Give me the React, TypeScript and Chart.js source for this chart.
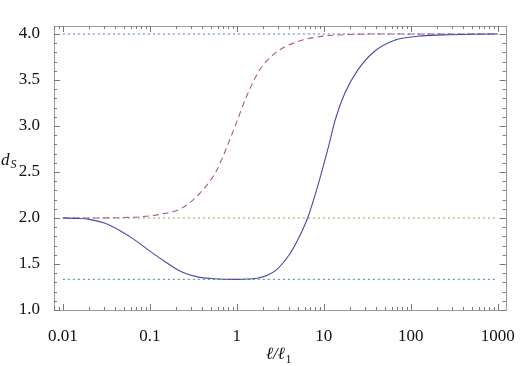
import React, { useEffect, useRef } from "react";
import { Chart, registerables } from "chart.js";

Chart.register(...registerables);

// ---- data ----
const blueX = [0.01, 0.015, 0.02, 0.03, 0.045, 0.065, 0.1, 0.15, 0.23, 0.35, 0.55, 1, 1.7, 2.2, 2.8, 4, 5, 6.5, 8.7, 11.3, 13.5, 17.4, 24.6, 38, 64, 120, 235, 500, 1000];
const blueY = [2.0, 1.995, 1.985, 1.945, 1.865, 1.77, 1.64, 1.525, 1.416, 1.36, 1.34, 1.333, 1.345, 1.375, 1.43, 1.6, 1.76, 2.0, 2.38, 2.775, 3.065, 3.355, 3.61, 3.81, 3.93, 3.975, 3.99, 3.998, 4.0];

const redX = [0.01, 0.03, 0.05, 0.081, 0.15, 0.21, 0.3, 0.385, 0.49, 0.594, 0.77, 1.0, 1.29, 1.83, 2.82, 4.75, 8.7, 20, 50, 1000];
const redY = [2.0, 2.001, 2.005, 2.014, 2.05, 2.087, 2.18, 2.28, 2.4, 2.53, 2.775, 3.05, 3.32, 3.61, 3.8, 3.91, 3.97, 3.995, 4.0, 4.0];

const refX = [0.01, 1000];
const refTop = 4.0;
const refMid = 2.0;
const refLow = 4 / 3;

const xTicks = [0.01, 0.1, 1, 10, 100, 1000];
const yTicks = [1.0, 1.5, 2.0, 2.5, 3.0, 3.5, 4.0];

const xMin = 0.0079;
const xMax = 1230;
const yMin = 1.0;
const yMax = 4.087;

const FONT = '"Liberation Serif", "DejaVu Serif", serif';

const framePlugin = {
  id: "frameTicks",
  afterDraw(chart: any) {
    const { ctx, chartArea: a, scales } = chart;
    const xs = scales.x;
    const ys = scales.y;
    ctx.save();
    ctx.strokeStyle = "#9a9a9a";
    ctx.lineWidth = 1;
    ctx.strokeRect(Math.round(a.left) + 0.5, Math.round(a.top) + 0.5, Math.round(a.right - a.left), Math.round(a.bottom - a.top));
    ctx.strokeStyle = "#777";
    ctx.beginPath();
    for (let e = -3; e <= 4; e++) {
      for (let m = 1; m <= 9; m++) {
        const v = m * Math.pow(10, e);
        if (v < xMin || v > xMax) continue;
        const px = Math.round(xs.getPixelForValue(v)) + 0.5;
        const len = m === 1 ? 6 : 3;
        ctx.moveTo(px, a.bottom);
        ctx.lineTo(px, a.bottom - len);
        ctx.moveTo(px, a.top);
        ctx.lineTo(px, a.top + len);
      }
    }
    for (let i = 10; i <= 40; i++) {
      const v = i / 10;
      if (v < yMin || v > yMax) continue;
      const py = Math.round(ys.getPixelForValue(v)) + 0.5;
      const len = i % 5 === 0 ? 6 : 3;
      ctx.moveTo(a.left, py);
      ctx.lineTo(a.left + len, py);
      ctx.moveTo(a.right, py);
      ctx.lineTo(a.right - len, py);
    }
    ctx.stroke();

    ctx.fillStyle = "#111";
    ctx.textBaseline = "alphabetic";
    ctx.textAlign = "left";
    ctx.font = `italic 17px ${FONT}`;
    ctx.fillText("d", 1, 165);
    ctx.font = `italic 12px ${FONT}`;
    ctx.fillText("S", 10.5, 168);

    ctx.font = `italic 17px ${FONT}`;
    const main = "ℓ/ℓ";
    const w = ctx.measureText(main).width;
    ctx.fillText(main, 266, 359);
    ctx.font = `12px ${FONT}`;
    ctx.fillText("1", 266 + w + 0.5, 363);
    ctx.restore();
  },
};

export default function App() {
  const ref = useRef<HTMLCanvasElement | null>(null);
  useEffect(() => {
    if (!ref.current) return;
    Chart.defaults.font.family = FONT;
    const pts = (xs: number[], ys: number[]) => xs.map((x, i) => ({ x, y: ys[i] }));
    const flat = (v: number) => refX.map((x) => ({ x, y: v }));
    const chart = new Chart(ref.current, {
      type: "line",
      data: {
        datasets: [
          {
            data: pts(blueX, blueY),
            borderColor: "#4848aa",
            borderWidth: 1.1,
            pointRadius: 0,
            cubicInterpolationMode: "monotone",
          },
          {
            data: pts(redX, redY),
            borderColor: "#b2568c",
            borderWidth: 1.1,
            borderDash: [6, 4],
            pointRadius: 0,
            cubicInterpolationMode: "monotone",
          },
          {
            data: flat(refMid),
            borderColor: "#a8982c",
            borderWidth: 1,
            borderDash: [2, 3],
            pointRadius: 0,
          },
          {
            data: flat(refLow),
            borderColor: "#3c9a58",
            borderWidth: 1,
            borderDash: [2, 3],
            pointRadius: 0,
          },
          {
            data: flat(refTop),
            borderColor: "#4a78c0",
            borderWidth: 1,
            borderDash: [2, 3],
            pointRadius: 0,
          },
        ],
      },
      options: {
        animation: false,
        responsive: false,
        parsing: false as any,
        layout: { padding: { left: 0, right: 10, top: 26, bottom: 0 } },
        plugins: { legend: { display: false }, tooltip: { enabled: false } },
        scales: {
          x: {
            type: "logarithmic",
            min: xMin,
            max: xMax,
            grid: { display: false },
            border: { display: false },
            afterBuildTicks: (s: any) => {
              s.ticks = xTicks.map((v) => ({ value: v }));
            },
            afterFit: (s: any) => {
              s.height = 56;
            },
            ticks: {
              autoSkip: false,
              maxRotation: 0,
              padding: 8,
              color: "#111",
              font: { family: FONT, size: 17 },
              callback: (v: any) => String(Number(v)),
            },
          },
          y: {
            type: "linear",
            min: yMin,
            max: yMax,
            grid: { display: false },
            border: { display: false },
            afterBuildTicks: (s: any) => {
              s.ticks = yTicks.map((v) => ({ value: v }));
            },
            afterFit: (s: any) => {
              s.width = 54;
            },
            ticks: {
              autoSkip: false,
              padding: 6,
              color: "#111",
              font: { family: FONT, size: 17 },
              callback: (v: any) => Number(v).toFixed(1),
            },
          },
        },
      },
      plugins: [framePlugin],
    } as any);
    return () => chart.destroy();
  }, []);
  return (
    <div style={{ position: "fixed", left: 0, top: 0, width: 523, height: 366, background: "#fff" }}>
      <canvas ref={ref} width={523} height={366} style={{ display: "block" }} />
    </div>
  );
}
